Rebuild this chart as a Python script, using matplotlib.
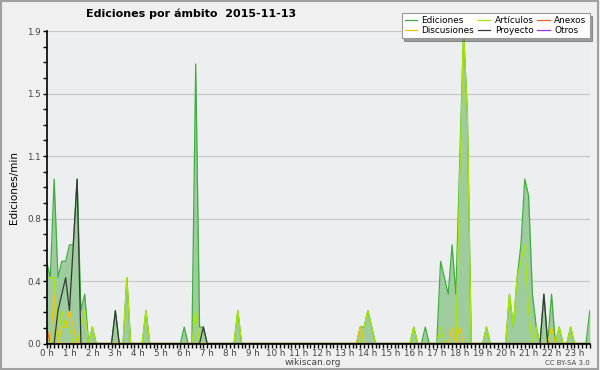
import matplotlib
matplotlib.use('Agg')
import matplotlib.pyplot as plt
from matplotlib.ticker import FixedLocator, AutoMinorLocator
from matplotlib.patches import Rectangle

# 10 minute bins from 00:00 to 23:40, values in edits per minute
minutes = list(range(0, 1430, 10))
hour_ticks = list(range(24))
hour_labels = ['%d h' % h for h in hour_ticks]
y_ticks = [0.0, 0.38, 0.76, 1.14, 1.52, 1.9]
y_labels = ['0.0', '0.4', '0.8', '1.1', '1.5', '1.9']

ediciones = [
    0.5, 0.4, 1.0, 0.4, 0.5, 0.5, 0.6, 0.6, 1.0, 0.2, 0.3, 0.0,
    0.1, 0.0, 0.0, 0.0, 0.0, 0.0, 0.2, 0.0, 0.0, 0.4, 0.0, 0.0,
    0.0, 0.0, 0.2, 0.0, 0.0, 0.0, 0.0, 0.0, 0.0, 0.0, 0.0, 0.0,
    0.1, 0.0, 0.0, 1.7, 0.1, 0.1, 0.0, 0.0, 0.0, 0.0, 0.0, 0.0,
    0.0, 0.0, 0.2, 0.0, 0.0, 0.0, 0.0, 0.0, 0.0, 0.0, 0.0, 0.0,
    0.0, 0.0, 0.0, 0.0, 0.0, 0.0, 0.0, 0.0, 0.0, 0.0, 0.0, 0.0,
    0.0, 0.0, 0.0, 0.0, 0.0, 0.0, 0.0, 0.0, 0.0, 0.0, 0.1, 0.1,
    0.2, 0.1, 0.0, 0.0, 0.0, 0.0, 0.0, 0.0, 0.0, 0.0, 0.0, 0.0,
    0.1, 0.0, 0.0, 0.1, 0.0, 0.0, 0.0, 0.5, 0.4, 0.3, 0.6, 0.3,
    1.1, 1.9, 1.4, 0.0, 0.0, 0.0, 0.0, 0.1, 0.0, 0.0, 0.0, 0.0,
    0.0, 0.3, 0.1, 0.4, 0.6, 1.0, 0.9, 0.3, 0.1, 0.0, 0.3, 0.0,
    0.3, 0.0, 0.1, 0.0, 0.0, 0.1, 0.0, 0.0, 0.0, 0.0, 0.2,
]
articulos = [
    0.4, 0.4, 0.4, 0.0, 0.2, 0.1, 0.1, 0.0, 0.0, 0.1, 0.2, 0.0,
    0.1, 0.0, 0.0, 0.0, 0.0, 0.0, 0.0, 0.0, 0.0, 0.4, 0.0, 0.0,
    0.0, 0.0, 0.2, 0.0, 0.0, 0.0, 0.0, 0.0, 0.0, 0.0, 0.0, 0.0,
    0.0, 0.0, 0.0, 0.2, 0.0, 0.0, 0.0, 0.0, 0.0, 0.0, 0.0, 0.0,
    0.0, 0.0, 0.2, 0.0, 0.0, 0.0, 0.0, 0.0, 0.0, 0.0, 0.0, 0.0,
    0.0, 0.0, 0.0, 0.0, 0.0, 0.0, 0.0, 0.0, 0.0, 0.0, 0.0, 0.0,
    0.0, 0.0, 0.0, 0.0, 0.0, 0.0, 0.0, 0.0, 0.0, 0.0, 0.0, 0.1,
    0.2, 0.1, 0.0, 0.0, 0.0, 0.0, 0.0, 0.0, 0.0, 0.0, 0.0, 0.0,
    0.1, 0.0, 0.0, 0.0, 0.0, 0.0, 0.0, 0.1, 0.0, 0.0, 0.0, 0.0,
    1.0, 1.9, 1.4, 0.0, 0.0, 0.0, 0.0, 0.1, 0.0, 0.0, 0.0, 0.0,
    0.0, 0.3, 0.1, 0.4, 0.5, 0.6, 0.2, 0.0, 0.1, 0.0, 0.0, 0.0,
    0.0, 0.0, 0.1, 0.0, 0.0, 0.1, 0.0, 0.0, 0.0, 0.0, 0.0,
]
discusiones = [
    0.0, 0.0, 0.3, 0.0, 0.1, 0.1, 0.2, 0.1, 0.0, 0.0, 0.0, 0.0,
    0.0, 0.0, 0.0, 0.0, 0.0, 0.0, 0.0, 0.0, 0.0, 0.0, 0.0, 0.0,
    0.0, 0.0, 0.0, 0.0, 0.0, 0.0, 0.0, 0.0, 0.0, 0.0, 0.0, 0.0,
    0.0, 0.0, 0.0, 0.0, 0.0, 0.0, 0.0, 0.0, 0.0, 0.0, 0.0, 0.0,
    0.0, 0.0, 0.0, 0.0, 0.0, 0.0, 0.0, 0.0, 0.0, 0.0, 0.0, 0.0,
    0.0, 0.0, 0.0, 0.0, 0.0, 0.0, 0.0, 0.0, 0.0, 0.0, 0.0, 0.0,
    0.0, 0.0, 0.0, 0.0, 0.0, 0.0, 0.0, 0.0, 0.0, 0.0, 0.1, 0.0,
    0.0, 0.0, 0.0, 0.0, 0.0, 0.0, 0.0, 0.0, 0.0, 0.0, 0.0, 0.0,
    0.0, 0.0, 0.0, 0.0, 0.0, 0.0, 0.0, 0.0, 0.0, 0.0, 0.1, 0.0,
    0.1, 0.0, 0.0, 0.0, 0.0, 0.0, 0.0, 0.0, 0.0, 0.0, 0.0, 0.0,
    0.0, 0.0, 0.0, 0.0, 0.0, 0.0, 0.0, 0.0, 0.0, 0.0, 0.0, 0.0,
    0.1, 0.0, 0.0, 0.0, 0.0, 0.0, 0.0, 0.0, 0.0, 0.0, 0.0,
]
proyecto = [
    0.0, 0.0, 0.0, 0.2, 0.3, 0.4, 0.2, 0.6, 1.0, 0.0, 0.0, 0.0,
    0.0, 0.0, 0.0, 0.0, 0.0, 0.0, 0.2, 0.0, 0.0, 0.0, 0.0, 0.0,
    0.0, 0.0, 0.0, 0.0, 0.0, 0.0, 0.0, 0.0, 0.0, 0.0, 0.0, 0.0,
    0.0, 0.0, 0.0, 0.0, 0.0, 0.1, 0.0, 0.0, 0.0, 0.0, 0.0, 0.0,
    0.0, 0.0, 0.0, 0.0, 0.0, 0.0, 0.0, 0.0, 0.0, 0.0, 0.0, 0.0,
    0.0, 0.0, 0.0, 0.0, 0.0, 0.0, 0.0, 0.0, 0.0, 0.0, 0.0, 0.0,
    0.0, 0.0, 0.0, 0.0, 0.0, 0.0, 0.0, 0.0, 0.0, 0.0, 0.0, 0.0,
    0.0, 0.0, 0.0, 0.0, 0.0, 0.0, 0.0, 0.0, 0.0, 0.0, 0.0, 0.0,
    0.0, 0.0, 0.0, 0.0, 0.0, 0.0, 0.0, 0.0, 0.0, 0.0, 0.0, 0.0,
    0.0, 0.0, 0.0, 0.0, 0.0, 0.0, 0.0, 0.0, 0.0, 0.0, 0.0, 0.0,
    0.0, 0.0, 0.0, 0.0, 0.0, 0.0, 0.0, 0.0, 0.0, 0.0, 0.3, 0.0,
    0.0, 0.0, 0.0, 0.0, 0.0, 0.0, 0.0, 0.0, 0.0, 0.0, 0.0,
]
anexos = [0.1] + [0.0] * 142
otros = [0.0] * 143

hours = [m / 60 for m in minutes]

fig = plt.figure(figsize=(6, 3.7), dpi=100, facecolor='#f0f0f0')
ax = fig.add_axes([0.0775, 0.0716, 0.9055, 0.8444])
ax.set_facecolor('#edeef0')

ax.fill_between(hours, ediciones, 0, color='#9fcc9f', lw=0, zorder=1.5)
ax.plot(hours, ediciones, color='#3fae3f', lw=0.9, label='Ediciones')
ax.plot(hours, articulos, color='#a8e800', lw=0.9, label='Artículos')
ax.plot(hours, anexos, color='#f06020', lw=0.9, label='Anexos')
ax.plot(hours, discusiones, color='#f5c400', lw=0.9, label='Discusiones')
ax.plot(hours, proyecto, color='#333a33', lw=0.9, label='Proyecto')
ax.plot(hours, otros, color='#9933ee', lw=0.9, label='Otros')

ax.set_xlim(0, hours[-1])
ax.set_ylim(0, 1.9)

ax.xaxis.set_major_locator(FixedLocator(hour_ticks))
ax.set_xticklabels(hour_labels)
ax.xaxis.set_minor_locator(AutoMinorLocator(6))
ax.yaxis.set_major_locator(FixedLocator(y_ticks))
ax.set_yticklabels(y_labels)
ax.yaxis.set_minor_locator(AutoMinorLocator(4))

ax.tick_params(which='both', direction='out', colors='black', labelcolor='#444444',
               labelsize=6.3, width=1, pad=1)
ax.tick_params(which='major', length=3)
ax.tick_params(which='minor', length=3)
ax.grid(axis='y', which='major', color='#c8c8c8', lw=0.9)
ax.set_axisbelow(True)

for s in ['top', 'right']:
    ax.spines[s].set_visible(False)
ax.spines['left'].set_linewidth(1.2)
ax.spines['bottom'].set_linewidth(1.2)

ax.set_ylabel('Ediciones/min', fontsize=7.5, labelpad=6)

fig.text(0.143, 0.962, 'Ediciones por ámbito  2015-11-13', fontsize=8,
         fontweight='bold', va='center', ha='left')

handles, labels = ax.get_legend_handles_labels()
order = [0, 3, 1, 4, 2, 5]
leg = fig.legend([handles[i] for i in order], [labels[i] for i in order],
                 loc='upper right', bbox_to_anchor=(0.99, 0.976), ncol=3,
                 fontsize=6.4, handlelength=1.4, handletextpad=0.5,
                 columnspacing=0.4, labelspacing=0.1, borderpad=0.35,
                 frameon=True, fancybox=False, shadow=True, framealpha=1)
leg.get_frame().set_edgecolor('#999999')
leg.get_frame().set_linewidth(0.8)

fig.text(0.522, 0.02, 'wikiscan.org', fontsize=6.5, color='#444444',
         ha='center', va='center')
fig.text(0.983, 0.02, 'CC BY-SA 3.0', fontsize=5, color='#444444',
         ha='right', va='center')

fig.patches.append(Rectangle((0.002, 0.004), 0.995, 0.993, transform=fig.transFigure,
                             fill=False, edgecolor='#a0a0a0', lw=1.5))

fig.savefig('out.png', dpi=100, facecolor=fig.get_facecolor())
